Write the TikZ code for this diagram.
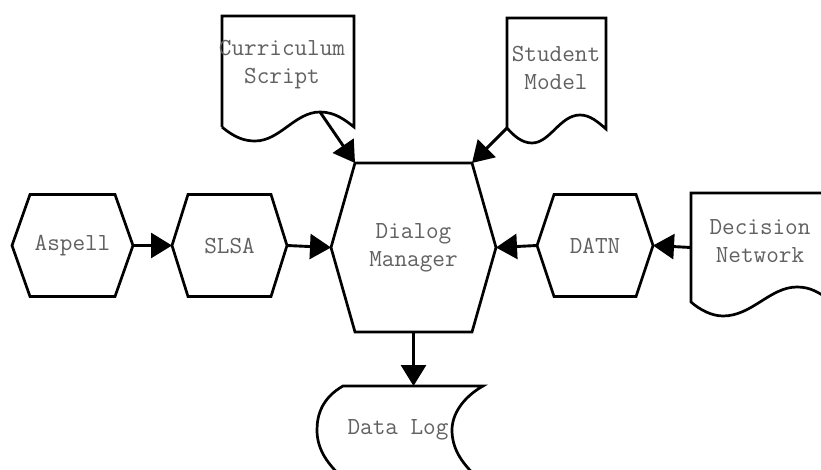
\documentclass[tikz,border=0pt]{standalone}
\usepackage{fontspec}
\usetikzlibrary{arrows.meta,calc}

\tikzset{
  outline/.style={line width=2.7pt, line join=miter},
  flow/.style={line width=2.9pt, -{Triangle[length=21pt,width=25pt]}},
  txt/.style={font=\ttfamily\fontsize{24.5}{28}\selectfont, text=black!62,
              align=center, inner sep=0pt, outer sep=0pt},
  hexbox/.style 2 args={txt, minimum width=#1, minimum height=#2}
}

% hexagon outline around a node: #1 node name, #2 horizontal inset of the corners
\newcommand{\hexoutline}[2]{%
  \draw[outline] ([xshift=#2]#1.north west) -- ([xshift=-#2]#1.north east)
    -- (#1.east) -- ([xshift=-#2]#1.south east) -- ([xshift=#2]#1.south west)
    -- (#1.west) -- cycle;}

\begin{document}
\begin{tikzpicture}[x=1pt, y=-1pt]
  \clip (0,0) rectangle (821,470);
  \fill[white] (0,0) rectangle (821,470);

  % process steps
  \node[hexbox={121pt}{102pt}] (aspell) at (72.5,245.5) {Aspell};
  \node[hexbox={115pt}{102pt}] (slsa)   at (229.5,245.5) {SLSA};
  \node[hexbox={165pt}{169pt}] (dm)     at (413.5,247.5) {Dialog\\Manager};
  \node[hexbox={116pt}{102pt}] (datn)   at (595,245.5) {DATN};
  \hexoutline{aspell}{18pt}
  \hexoutline{slsa}{16pt}
  \hexoutline{dm}{24pt}
  \hexoutline{datn}{17pt}

  % documents
  \draw[outline] (222,127) -- (222,16) -- (354,16) -- (354,127)
    .. controls (345,120) and (335,112) .. (320,112)
    .. controls (295,112) and (280,141) .. (255,141)
    .. controls (245,141) and (235,138) .. (222,127);
  \node[txt] (cs) at (282,64.5) {Curriculum\\Script};
  \coordinate (cs-out) at (320,112);

  \draw[outline] (507,128) -- (507,18) -- (606,18) -- (606,129)
    .. controls (598,122) and (590,115) .. (580,115)
    .. controls (560,115) and (550,143) .. (532,143)
    .. controls (522,143) and (514,136) .. (507,128);
  \node[txt] (sm) at (556,67.5) {Student\\Model};
  \coordinate (sm-out) at (507,128);

  \draw[outline] (860,193) -- (691,193) -- (691,302)
    .. controls (700,310) and (712,316) .. (723,316)
    .. controls (752,316) and (770,287) .. (797,287)
    .. controls (810,287) and (818,292) .. (830,300);
  \node[txt] (dn) at (760,241.5) {Decision\\Network};
  \coordinate (dn-out) at (691,247.5);

  % stored data
  \draw[outline] (343,478) .. controls (325,462) and (317,447) .. (317,430)
    .. controls (317,415) and (322,398) .. (343,386) -- (483,386)
    .. controls (462,398) and (452,415) .. (452,430)
    .. controls (452,447) and (460,462) .. (478,478);
  \node[txt] (dl) at (398,430) {Data Log};
  \coordinate (dl-in) at (413.5,386);

  % connectors
  \draw[flow] (aspell.east) -- (slsa.west);
  \draw[flow] (slsa.east) -- (dm.west);
  \draw[flow] (datn.west) -- (dm.east);
  \draw[flow] (dn-out) -- (datn.east);
  \draw[flow] (cs-out) -- ([xshift=24pt]dm.north west);
  \draw[flow] (sm-out) -- ([xshift=-24pt]dm.north east);
  \draw[flow] (dm.south) -- (dl-in);
\end{tikzpicture}
\end{document}
